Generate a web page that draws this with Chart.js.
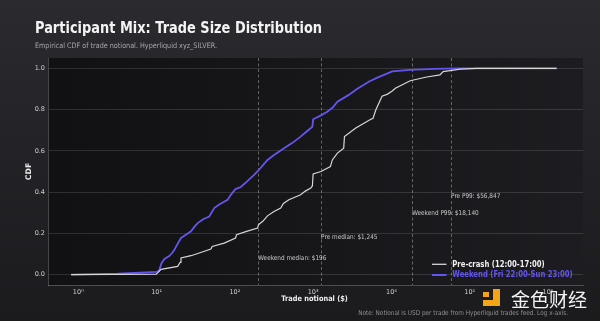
<!DOCTYPE html>
<html><head><meta charset="utf-8">
<script src="https://cdn.jsdelivr.net/npm/chart.js@4.4.1/dist/chart.umd.min.js"></script>
<style>
html,body{margin:0;padding:0;background:#1f1f23;width:600px;height:321px;overflow:hidden}
#wrap{position:relative;width:600px;height:321px}
canvas{display:block}
</style></head>
<body><div id="wrap"><canvas id="c" width="600" height="321"></canvas></div>
<script>
// ---- data ----
const WEEKEND_X = [0.81, 3.2, 10.0, 10.7, 11.6, 12.6, 14.5, 15.8, 16.9, 17.8, 20.5, 22.9, 27.5, 30.9, 33.5, 39.8, 47.1, 54.5, 63.1, 80.7, 88.9, 102, 119, 141, 176, 200, 261, 316, 425, 550, 692, 832, 977, 1000, 1259, 1514, 1778, 2042, 2818, 3631, 5129, 6607, 10233, 17378, 35481, 70795, 1290000];
const WEEKEND_Y = [0.0, 0.005, 0.014, 0.018, 0.057, 0.076, 0.09, 0.105, 0.121, 0.137, 0.178, 0.19, 0.21, 0.235, 0.25, 0.27, 0.282, 0.323, 0.34, 0.363, 0.387, 0.415, 0.425, 0.45, 0.484, 0.505, 0.556, 0.58, 0.613, 0.64, 0.669, 0.695, 0.717, 0.753, 0.772, 0.79, 0.81, 0.838, 0.87, 0.9, 0.935, 0.955, 0.985, 0.992, 0.997, 1.0, 1.0];
const PRE_X = [0.81, 9.9, 11.4, 18.6, 20.0, 20.5, 27.5, 35.1, 49.4, 51.3, 73.1, 102, 105, 141, 195, 200, 229, 261, 316, 385, 417, 490, 692, 794, 933, 977, 1000, 1259, 1660, 1758, 2042, 2455, 2512, 3467, 5248, 5821, 6310, 7586, 8913, 10233, 11220, 17378, 28184, 41687, 45709, 75858, 123027, 1290000];
const PRE_Y = [0.0, 0.003, 0.026, 0.04, 0.06, 0.081, 0.092, 0.105, 0.124, 0.137, 0.153, 0.178, 0.194, 0.21, 0.226, 0.242, 0.26, 0.285, 0.306, 0.323, 0.345, 0.363, 0.387, 0.405, 0.42, 0.43, 0.488, 0.5, 0.524, 0.556, 0.589, 0.613, 0.669, 0.71, 0.75, 0.758, 0.798, 0.865, 0.875, 0.89, 0.903, 0.94, 0.958, 0.968, 0.984, 0.996, 1.0, 1.0];
const SERIES_NAMES = ['Pre-crash (12:00-17:00)', 'Weekend (Fri 22:00-Sun 23:00)'];
const X_TICKS = [1, 10, 100, 1000, 10000, 100000, 1000000];
const X_TICK_LABELS = ['10\u2070', '10\u00b9', '10\u00b2', '10\u00b3', '10\u2074', '10\u2075', '10\u2076'];
const Y_TICKS = [0, 0.2, 0.4, 0.6, 0.8, 1.0];
const Y_TICK_LABELS = ['0.0', '0.2', '0.4', '0.6', '0.8', '1.0'];
const MARKER_VALUES = [196, 1245, 18140, 56847];
const MARKER_LABELS = ['Weekend median: $196', 'Pre median: $1,245', 'Weekend P99: $18,140', 'Pre P99: $56,847'];
const MARKER_LABEL_Y = [0.079, 0.18, 0.30, 0.382];

const PURPLE = '#6355ee';
const WHITE = '#d6d6d8';
const FONT = "'DejaVu Sans', 'Liberation Sans', sans-serif";
const SX = 0.86;

function toPts(xs, ys) { return xs.map((x, i) => ({ x: x, y: ys[i] })); }

function txt(ctx, s, x, y, font, color, align, baseline, sx) {
  ctx.save();
  ctx.translate(x, y);
  ctx.scale(sx === undefined ? SX : sx, 1);
  ctx.font = font;
  ctx.fillStyle = color;
  ctx.textAlign = align || 'left';
  ctx.textBaseline = baseline || 'alphabetic';
  ctx.fillText(s, 0, 0);
  ctx.restore();
}

const decor = {
  id: 'decor',
  beforeDraw(chart) {
    const ctx = chart.ctx, a = chart.chartArea;
    ctx.save();
    let g = ctx.createLinearGradient(0, 0, 0, chart.height);
    g.addColorStop(0, '#2a2a2f');
    g.addColorStop(1, '#1b1b1e');
    ctx.fillStyle = g;
    ctx.fillRect(0, 0, chart.width, chart.height);
    let g2 = ctx.createLinearGradient(a.left, 0, a.right, 0);
    g2.addColorStop(0, '#111113');
    g2.addColorStop(1, '#1d1d21');
    ctx.fillStyle = g2;
    ctx.fillRect(a.left, a.top, a.right - a.left, a.bottom - a.top);
    ctx.restore();
  },
  beforeDatasetsDraw(chart) {
    const ctx = chart.ctx, a = chart.chartArea, xs = chart.scales.x;
    ctx.save();
    ctx.strokeStyle = 'rgba(200,200,200,0.55)';
    ctx.lineWidth = 0.8;
    ctx.setLineDash([3, 2.5]);
    MARKER_VALUES.forEach(v => {
      const px = Math.round(xs.getPixelForValue(v)) + 0.5;
      ctx.beginPath();
      ctx.moveTo(px, a.top);
      ctx.lineTo(px, a.bottom);
      ctx.stroke();
    });
    ctx.restore();
  },
  afterDraw(chart) {
    const ctx = chart.ctx, a = chart.chartArea, xs = chart.scales.x, ys = chart.scales.y;
    // title & subtitle
    txt(ctx, 'Participant Mix: Trade Size Distribution', 35, 32.7, 'bold 15.6px ' + FONT, '#f3f3f3', 'left', 'alphabetic', 0.83);
    txt(ctx, 'Empirical CDF of trade notional. Hyperliquid xyz_SILVER.', 35, 47.5, '7.5px ' + FONT, '#a6a6ab');
    // marker annotations
    MARKER_VALUES.forEach((v, i) => {
      txt(ctx, MARKER_LABELS[i], xs.getPixelForValue(v) + 0.5, ys.getPixelForValue(MARKER_LABEL_Y[i]), '6.7px ' + FONT, '#c8c8c8', 'left', 'middle');
    });
    // axis titles
    txt(ctx, 'Trade notional ($)', (a.left + a.right) / 2 - 1, 301, 'bold 7.7px ' + FONT, '#ededed', 'center');
    ctx.save();
    ctx.translate(29, (a.top + a.bottom) / 2);
    ctx.rotate(-Math.PI / 2);
    ctx.font = 'bold 7.7px ' + FONT;
    ctx.fillStyle = '#ededed';
    ctx.textAlign = 'center';
    ctx.textBaseline = 'middle';
    ctx.fillText('CDF', 0, 0);
    ctx.restore();
    // legend
    const lg = [[WHITE, 1.3, '#f0f0f0', 264.3], [PURPLE, 2, PURPLE, 275]];
    lg.forEach((l, i) => {
      ctx.save();
      ctx.strokeStyle = l[0];
      ctx.lineWidth = l[1];
      ctx.beginPath();
      ctx.moveTo(432, l[3]);
      ctx.lineTo(446.5, l[3]);
      ctx.stroke();
      ctx.restore();
      txt(ctx, SERIES_NAMES[i], 452.3, l[3] + 0.3, 'bold 8px ' + FONT, l[2], 'left', 'middle');
    });
    // note
    txt(ctx, 'Note: Notional is USD per trade from Hyperliquid trades feed. Log x-axis.', 568, 315, '6.7px ' + FONT, '#8f8f94', 'right');
    // watermark logo
    ctx.save();
    ctx.fillStyle = '#f2a516';
    ctx.fillRect(493, 289, 7, 17);
    ctx.fillRect(483, 300, 17, 6);
    ctx.fillRect(483, 292, 6, 5);
    ctx.restore();
    txt(ctx, '金色财经', 511, 299.5, '19px "Noto Sans CJK SC", sans-serif', '#f2f2f2', 'left', 'middle', 1);
  }
};

new Chart(document.getElementById('c'), {
  type: 'line',
  data: {
    datasets: [
      { label: SERIES_NAMES[0], data: toPts(PRE_X, PRE_Y), borderColor: WHITE, borderWidth: 1.2, pointRadius: 0, tension: 0, fill: false },
      { label: SERIES_NAMES[1], data: toPts(WEEKEND_X, WEEKEND_Y), borderColor: PURPLE, borderWidth: 1.8, pointRadius: 0, tension: 0, fill: false }
    ]
  },
  options: {
    responsive: false,
    devicePixelRatio: 1,
    animation: false,
    layout: { padding: { top: 58, right: 17, left: 0, bottom: 0 } },
    plugins: { legend: { display: false }, title: { display: false }, tooltip: { enabled: false } },
    scales: {
      x: {
        type: 'logarithmic',
        min: 0.41,
        max: 2800000,
        afterBuildTicks(s) { s.ticks = X_TICKS.map(v => ({ value: v })); },
        afterFit(s) { s.height = 36; },
        grid: { display: false, drawTicks: false },
        border: { display: true, color: 'rgba(255,255,255,0.22)', width: 1 },
        ticks: {
          autoSkip: false, maxRotation: 0, padding: 3,
          font: { family: FONT, size: 6.5 }, color: '#cfcfcf',
          callback: (v, i) => X_TICK_LABELS[i]
        }
      },
      y: {
        type: 'linear',
        min: -0.05,
        max: 1.05,
        afterBuildTicks(s) { s.ticks = Y_TICKS.map(v => ({ value: v })); },
        afterFit(s) { s.width = 48; },
        grid: { color: 'rgba(255,255,255,0.14)', lineWidth: 0.9, drawTicks: false },
        border: { display: true, color: 'rgba(255,255,255,0.22)', width: 1 },
        ticks: {
          padding: 3,
          font: { family: FONT, size: 6.5 }, color: '#cfcfcf',
          callback: (v, i) => Y_TICK_LABELS[i]
        }
      }
    }
  },
  plugins: [decor]
});
</script>
</body></html>
